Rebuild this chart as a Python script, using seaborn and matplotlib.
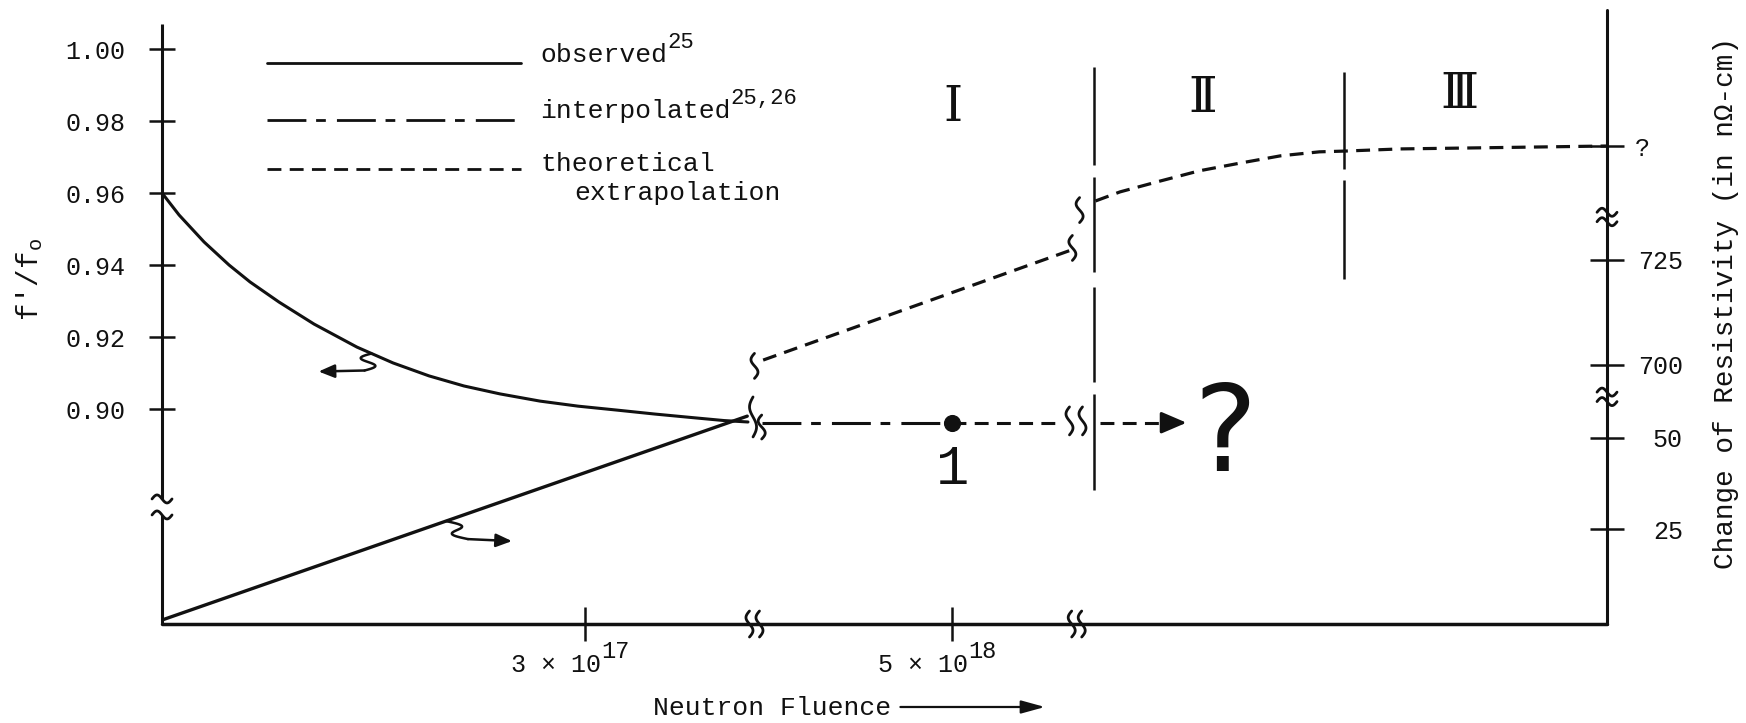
import numpy as np
import matplotlib
matplotlib.use("Agg")
import matplotlib.pyplot as plt
import matplotlib.transforms as mtransforms
import seaborn as sns

# ---------------------------------------------------------------------------
# Data.  The fluence axis is broken twice, so it is laid out on a compressed
# 0-100 plot scale; the resistivity axis is broken as well and uses its own
# compressed scale on the right.
# ---------------------------------------------------------------------------
FLUENCE_TICK_POS = [29.3, 54.7]
FLUENCE_TICK_LABELS = ["3 × 10", "5 × 10"]
FLUENCE_TICK_EXP = ["17", "18"]
FLUENCE_BREAKS = [41.0, 63.3]

REGION_NAMES = ["\u2160", "\u2161", "\u2162"]
REGION_NAME_X = [54.7, 72.0, 89.8]
REGION_BOUND_X = [64.5, 81.8]
# pieces of the two region boundaries, as (low, high) in f'/f0 units
BOUND1_PIECES = [(0.9678, 0.9950), (0.9381, 0.9644), (0.9075, 0.9339), (0.8775, 0.9042)]
BOUND2_PIECES = [(0.9667, 0.9936), (0.9361, 0.9636)]

# f'/f0 (left axis)
F_TICKS = [0.90, 0.92, 0.94, 0.96, 0.98, 1.00]
F_AXIS_BREAK = 0.8728
F_AXIS_TOP = 1.0069
F_OBS_X = [0, 1.18, 2.91, 4.64, 6.09, 8.10, 10.52, 13.49, 15.99, 18.48,
           20.90, 23.39, 26.16, 28.79, 31.49, 34.12, 36.75, 38.89, 40.55]
F_OBS = [0.9600, 0.9539, 0.9464, 0.9400, 0.9353, 0.9297, 0.9236, 0.9172, 0.9128,
         0.9092, 0.9064, 0.9042, 0.9022, 0.9008, 0.8997, 0.8986, 0.8976, 0.8968, 0.8964]
F_PLATEAU = 0.8962
F_INTERP_X = [41.5, 54.7]
F_POINT_X = 54.7
F_EXTRAP_X = [54.7, 62.3]
F_ARROW_X = [64.9, 70.9]
F_CURVE_BREAK_X = [40.9, 41.5, 62.8, 63.7]
F_CURVE_BREAK_Y = [0.8978, 0.8950, 0.8967, 0.8967]

# change of resistivity (right axis)
RES_TICK_POS = [25, 50, 70.05, 98.9, 130.2]
RES_TICK_LABELS = ["25", "50", "700", "725", "?"]
RES_AXIS_BREAKS = [110.7, 61.3]
RES_AXIS_TOP = 167.5
RES_OBS_X = [0, 40.5]
RES_OBS = [0, 56.0]
RES_EXTRAP_A_X = [41.6, 62.9]
RES_EXTRAP_A = [71.4, 101.6]
RES_EXTRAP_B_X = [64.6, 66.3, 69.1, 71.8, 74.6, 77.4, 80.1, 81.8, 85.7, 91.2, 100]
RES_EXTRAP_B = [115.1, 117.6, 120.6, 123.4, 125.5, 127.5, 128.6, 128.8, 129.4, 129.7, 130.2]
RES_CURVE_BREAK_X = [41.0, 63.0, 63.5]
RES_CURVE_BREAK_Y = [69.8, 102.2, 112.6]

# pointer arrows tying each curve to its axis
POINTER_F_X = 14.5
POINTER_RES_X = 19.65

LEGEND_LABELS = ["observed", "interpolated", "theoretical", "extrapolation"]
LEGEND_REFS = ["25", "25,26", "", ""]

# ---------------------------------------------------------------------------
sns.set_theme(style="white")
plt.rcParams.update({
    "font.family": ["Liberation Mono", "DejaVu Sans Mono", "DejaVu Sans"],
    "mathtext.default": "regular",
    "lines.scale_dashes": False,
    "axes.unicode_minus": False,
})

INK = "#111111"
SOLID = "-"
LONG_SHORT = (0, (28, 7, 7, 8))
SHORT = (0, (10, 6))
DPI = 100

fig = plt.figure(figsize=(17.46, 7.23), dpi=DPI)
fig.patch.set_facecolor("white")
ax = fig.add_axes([0.0928, 0.1369, 0.8276, 0.8520])
ax2 = ax.twinx()
for a in (ax, ax2):
    for s in a.spines.values():
        s.set_visible(False)
ax.set_facecolor("white")

F_LOW, F_HIGH = 0.84028, 1.01139
R_LOW, R_HIGH = -1.1, 168.1


def px_offset(axis, x, y, dx=0.0):
    """Transform for shapes given in pixels around a data point."""
    return (mtransforms.Affine2D().translate(dx, 0).scale(1.0 / DPI)
            + fig.dpi_scale_trans
            + mtransforms.ScaledTranslation(x, y, axis.transData))


def s_mark(axis, x, y, h, w=4.0, dx=0.0, lw=2.0):
    t = np.linspace(0, 1, 60)
    axis.plot(w * np.sin(2 * np.pi * t), h * (t - 0.5),
              transform=px_offset(axis, x, y, dx), color=INK, lw=lw,
              clip_on=False, solid_capstyle="round")


def tilde(axis, x, y, w=22.0, a=4.0, lw=2.0):
    t = np.linspace(0, 1, 60)
    axis.plot(w * (t - 0.5), a * np.sin(2 * np.pi * t),
              transform=px_offset(axis, x, y), color=INK, lw=lw,
              clip_on=False, solid_capstyle="round")


def pointer(axis, x, y, sx, sy, amp, tip):
    t = np.linspace(0, 1, 60)
    trans = px_offset(axis, x, y)
    axis.plot(sx * t + amp * np.sin(2 * np.pi * t), sy * t,
              transform=trans, color=INK, lw=1.8, clip_on=False)
    axis.annotate("", xy=tip, xytext=(sx, sy), xycoords=trans, textcoords=trans,
                  arrowprops=dict(arrowstyle="-|>,head_length=0.6,head_width=0.25",
                                  lw=1.8, color=INK, shrinkA=0, shrinkB=0,
                                  mutation_scale=16))


def superscript(base, text, size=16):
    if text:
        ax.annotate(text, xy=(1.0, 0.6), xycoords=base, ha="left", va="bottom",
                    fontsize=size, color=INK, annotation_clip=False)


# --- axis frame --------------------------------------------------------------
ax.set_xlim(0, 100)
ax.set_ylim(F_LOW, F_HIGH)
ax2.set_ylim(R_LOW, R_HIGH)

gap = 8.0 / 3600
ax.plot([0, 0], [F_LOW, F_AXIS_BREAK - gap], color=INK, lw=2.2,
        solid_capstyle="butt", clip_on=False)
ax.plot([0, 0], [F_AXIS_BREAK + gap, F_AXIS_TOP], color=INK, lw=2.2,
        solid_capstyle="butt", clip_on=False)
tilde(ax, 0, F_AXIS_BREAK - gap, w=20)
tilde(ax, 0, F_AXIS_BREAK + gap, w=20)

ax.plot([0, 100], [0, 0], transform=ax.get_xaxis_transform(), color=INK,
        lw=2.5, clip_on=False)
for bx in FLUENCE_BREAKS:
    s_mark(ax, bx, F_LOW, 26, w=3.5, dx=-5)
    s_mark(ax, bx, F_LOW, 26, w=3.5, dx=5)

ax2.plot([100, 100], [R_LOW, RES_AXIS_TOP], color=INK, lw=2.2, clip_on=False)
for rb in RES_AXIS_BREAKS:
    tilde(ax2, 100, rb + 1.3, w=20)
    tilde(ax2, 100, rb - 1.3, w=20)

# region boundaries
for bx, pieces in zip(REGION_BOUND_X, [BOUND1_PIECES, BOUND2_PIECES]):
    for lo, hi in pieces:
        ax.vlines(bx, lo, hi, colors=INK, lw=1.8)

# --- curves ------------------------------------------------------------------
sns.lineplot(x=F_OBS_X, y=F_OBS, ax=ax, color=INK, lw=2.2, sort=False,
             estimator=None, linestyle=SOLID)
sns.lineplot(x=RES_OBS_X, y=RES_OBS, ax=ax2, color=INK, lw=2.4, sort=False,
             estimator=None, linestyle=SOLID)
sns.lineplot(x=F_INTERP_X, y=[F_PLATEAU] * len(F_INTERP_X), ax=ax, color=INK,
             lw=2.2, estimator=None, linestyle=LONG_SHORT)
sns.lineplot(x=F_EXTRAP_X, y=[F_PLATEAU] * len(F_EXTRAP_X), ax=ax, color=INK,
             lw=2.2, estimator=None, linestyle=SHORT)
sns.lineplot(x=[F_ARROW_X[0], F_ARROW_X[1] - 1.3], y=[F_PLATEAU] * 2, ax=ax,
             color=INK, lw=2.2, estimator=None, linestyle=SHORT)
ax.annotate("", xy=(F_ARROW_X[1], F_PLATEAU), xytext=(F_ARROW_X[1] - 1.3, F_PLATEAU),
            arrowprops=dict(arrowstyle="-|>,head_length=0.7,head_width=0.3",
                            lw=2.2, color=INK, shrinkA=0, shrinkB=0,
                            mutation_scale=22))
sns.scatterplot(x=[F_POINT_X], y=[F_PLATEAU], ax=ax, s=130, color=INK,
                edgecolor=INK, zorder=5)

sns.lineplot(x=RES_EXTRAP_A_X, y=RES_EXTRAP_A, ax=ax2, color=INK, lw=2.3,
             estimator=None, linestyle=SHORT)
sns.lineplot(x=RES_EXTRAP_B_X, y=RES_EXTRAP_B, ax=ax2, color=INK, lw=2.3,
             sort=False, estimator=None, linestyle=SHORT)

# break marks on the curves
for bx, by, h in zip(F_CURVE_BREAK_X, F_CURVE_BREAK_Y, [40, 24, 28, 28]):
    s_mark(ax, bx, by, h, w=3.5)
for bx, by in zip(RES_CURVE_BREAK_X, RES_CURVE_BREAK_Y):
    s_mark(ax2, bx, by, 25, w=3.5)

# pointers from each curve to its axis
pointer(ax, POINTER_F_X, float(np.interp(POINTER_F_X, F_OBS_X, F_OBS)),
        -7, -17, -9, (-53, -18))
pointer(ax2, POINTER_RES_X, float(np.interp(POINTER_RES_X, RES_OBS_X, RES_OBS)),
        22, -18, 10, (66, -20))

# --- annotations -------------------------------------------------------------
ax.text(F_POINT_X, 0.883, "1", ha="center", va="center", fontsize=40,
        color=INK, family=["Liberation Mono"])
ax.text(73.6, 0.892, "?", ha="center", va="center", fontsize=86,
        color=INK, family=["DejaVu Sans"])
for name, nx, ny in zip(REGION_NAMES, REGION_NAME_X, [0.8393, 0.8539, 0.8594]):
    ax.text(nx, ny, name, transform=ax.get_xaxis_transform(), ha="center",
            va="center", fontsize=35, color=INK,
            family=["DejaVu Serif", "DejaVu Sans"])

# legend
leg_styles = [SOLID, LONG_SHORT, SHORT]
leg_line_y = [0.910, 0.818, 0.738]
for style, ly in zip(leg_styles, leg_line_y):
    ax.plot([0.0727, 0.2484], [ly, ly], transform=ax.transAxes, color=INK,
            lw=2.0, linestyle=style)
for lbl, ref, tx, ty in zip(LEGEND_LABELS, LEGEND_REFS,
                            [0.2616, 0.2616, 0.2616, 0.2851],
                            [0.912, 0.821, 0.735, 0.688]):
    t = ax.text(tx, ty, lbl, transform=ax.transAxes, ha="left", va="baseline",
                fontsize=19, color=INK)
    superscript(t, ref, size=16)

# --- ticks and labels --------------------------------------------------------
ax.set_yticks(F_TICKS, [f"{v:.2f}" for v in F_TICKS])
ax.tick_params(axis="y", left=True, right=False, direction="inout", length=19,
               width=1.8, color=INK, labelsize=18, labelcolor=INK, pad=17)
ax.set_xticks(FLUENCE_TICK_POS, FLUENCE_TICK_LABELS)
ax.tick_params(axis="x", bottom=True, top=False, direction="inout", length=24,
               width=1.8, color=INK, labelsize=18, labelcolor=INK, pad=9)
for lab, exp in zip(ax.get_xticklabels(), FLUENCE_TICK_EXP):
    lab.set_ha("left")
    lab.set_transform(lab.get_transform()
                      + mtransforms.ScaledTranslation(-74 / DPI, 0, fig.dpi_scale_trans))
    superscript(lab, exp, size=17)

ax2.set_yticks(RES_TICK_POS, RES_TICK_LABELS)
ax2.tick_params(axis="y", right=True, left=False, direction="inout", length=24,
                width=1.8, color=INK, labelsize=18, labelcolor=INK, pad=8)
for lab in ax2.get_yticklabels():
    if lab.get_text() != "?":
        lab.set_ha("right")
        lab.set_transform(lab.get_transform()
                          + mtransforms.ScaledTranslation(48 / DPI, 0, fig.dpi_scale_trans))

ax.set_xlabel("")
ax.set_ylabel("f'/f$_o$", fontsize=21, color=INK)
ax.yaxis.set_label_coords(-0.081, 0.56)
ax2.set_ylabel("Change of Resistivity (in n\u03a9-cm)", fontsize=20, color=INK)
ax2.yaxis.set_label_coords(1.073, 0.521)

ax.text(0.422, -0.148, "Neutron Fluence", transform=ax.transAxes, ha="center",
        va="baseline", fontsize=19, color=INK)
ax.annotate("", xy=(0.611, -0.1347), xytext=(0.511, -0.1347),
            xycoords="axes fraction",
            arrowprops=dict(arrowstyle="-|>,head_length=0.8,head_width=0.22",
                            lw=1.6, color=INK, shrinkA=0, shrinkB=0,
                            mutation_scale=18))

ax.set_xlim(0, 100)
ax.set_ylim(F_LOW, F_HIGH)
ax2.set_ylim(R_LOW, R_HIGH)

fig.savefig("out.png", dpi=DPI, facecolor="white")
